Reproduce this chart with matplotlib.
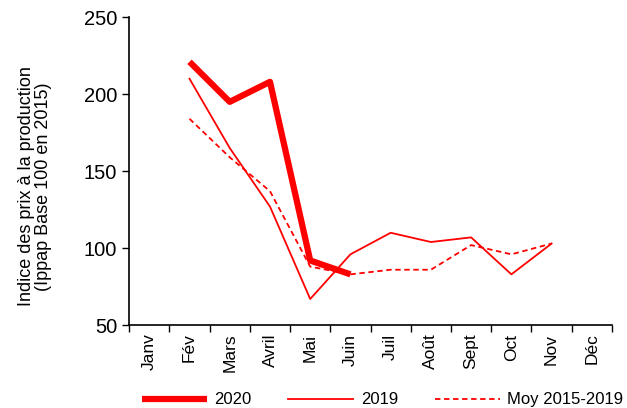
import matplotlib
matplotlib.use("Agg")
import matplotlib.pyplot as plt
import numpy as np

plt.rcParams["font.family"] = ["Liberation Sans", "DejaVu Sans"]

mois = ["Janv", "Fév", "Mars", "Avril", "Mai", "Juin", "Juil", "Août",
        "Sept", "Oct", "Nov", "Déc"]
# valeurs (None = pas de donnée)
v2020 = [None, 221, 195, 208, 92, 83, None, None, None, None, None, None]
v2019 = [None, 210, 165, 127, 67, 96, 110, 104, 107, 83, 103, None]
moy = [None, 184, 159, 137, 88, 83, 86, 86, 102, 96, 103, None]

def arr(v):
    return np.array([np.nan if x is None else x for x in v], dtype=float)

fig = plt.figure(figsize=(6.27, 4.08), dpi=100)
ax = fig.add_axes([0.206, 0.203, 0.770, 0.755])

x = np.arange(len(mois))
ax.plot(x, arr(v2020), color="#ff0000", lw=4.5, label="2020", solid_capstyle="butt")
ax.plot(x, arr(v2019), color="#ff0000", lw=1.3, label="2019")
ax.plot(x, arr(moy), color="#ff0000", lw=1.3, ls=(0, (3, 2)), label="Moy 2015-2019")

ax.set_xlim(-0.5, len(mois) - 0.5)
ax.set_ylim(50, 250)
ax.set_yticks([50, 100, 150, 200, 250])
ax.tick_params(axis="y", labelsize=14.5, length=5, width=1, direction="out")

ax.set_xticks(np.arange(-0.5, len(mois), 1))
ax.set_xticklabels([])
ax.set_xticks(x, minor=True)
ax.set_xticklabels(mois, minor=True, rotation=90, fontsize=12.5)
ax.tick_params(axis="x", which="major", length=5, width=1, direction="out")
ax.tick_params(axis="x", which="minor", length=0, pad=6)

for s in ["top", "right"]:
    ax.spines[s].set_visible(False)
ax.spines["left"].set_linewidth(1.2)
ax.spines["bottom"].set_linewidth(1.2)

ax.set_ylabel("Indice des prix à la production\n(Ippap Base 100 en 2015)",
              fontsize=13, linespacing=1.0)
ax.yaxis.set_label_coords(-0.16, 0.45)

leg = fig.legend(*ax.get_legend_handles_labels(), loc="center",
                 bbox_to_anchor=(0.61, 0.02), ncol=3, frameon=False,
                 fontsize=12, handlelength=3.9, columnspacing=2.2,
                 handletextpad=0.45, borderpad=0.1)

fig.savefig("out.png", dpi=100)
